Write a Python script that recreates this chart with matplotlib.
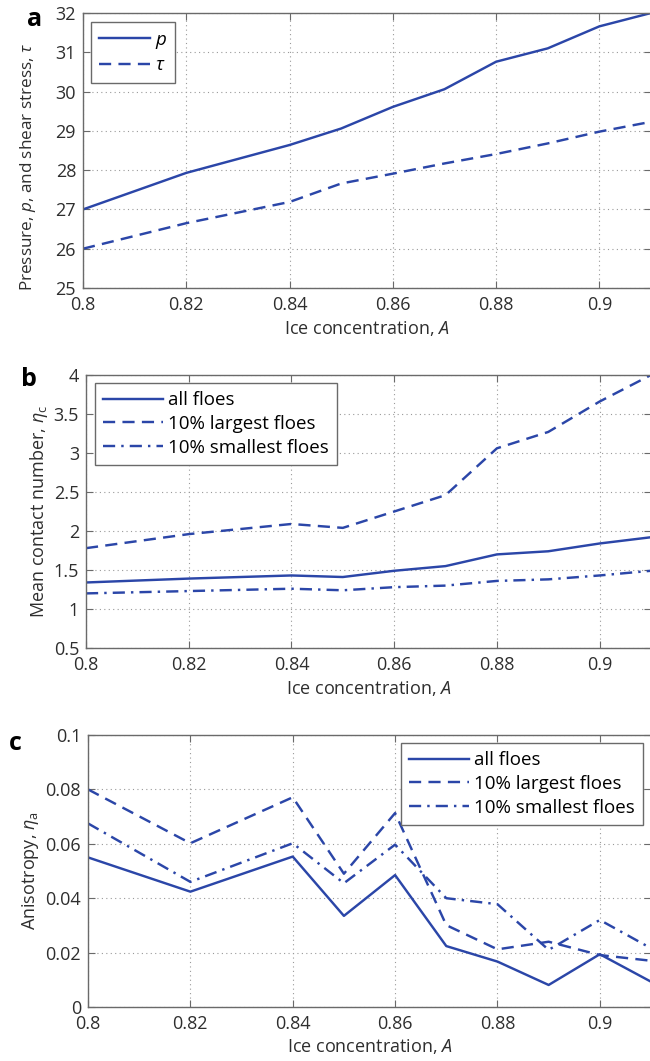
import matplotlib
matplotlib.use("Agg")
import matplotlib.pyplot as plt

# Ice concentration values (shared x for all panels)
conc = [0.80, 0.82, 0.84, 0.85, 0.86, 0.87, 0.88, 0.89, 0.90, 0.91]

# Panel a: pressure and shear stress
pressure = [27.0, 27.93, 28.64, 29.06, 29.61, 30.06, 30.76, 31.10, 31.66, 32.0]
shear = [26.0, 26.65, 27.19, 27.66, 27.91, 28.17, 28.41, 28.68, 28.98, 29.23]

# Panel b: mean contact number
contact_all = [1.34, 1.39, 1.43, 1.41, 1.49, 1.55, 1.70, 1.74, 1.84, 1.92]
contact_large = [1.78, 1.96, 2.09, 2.04, 2.25, 2.46, 3.06, 3.27, 3.66, 4.0]
contact_small = [1.20, 1.23, 1.26, 1.24, 1.28, 1.30, 1.36, 1.38, 1.43, 1.49]

# Panel c: anisotropy
aniso_all = [0.0550, 0.0424, 0.0553, 0.0335, 0.0485, 0.0224, 0.0167, 0.0081, 0.0194, 0.0093]
aniso_large = [0.0800, 0.0602, 0.0771, 0.0490, 0.0713, 0.0301, 0.0212, 0.0240, 0.0191, 0.0170]
aniso_small = [0.0675, 0.0460, 0.0602, 0.0455, 0.0597, 0.0400, 0.0378, 0.0210, 0.0320, 0.0216]

series_labels = ["all floes", "10% largest floes", "10% smallest floes"]
xticks = [0.80, 0.82, 0.84, 0.86, 0.88, 0.90]
xtick_labels = ["0.8", "0.82", "0.84", "0.86", "0.88", "0.9"]

plt.rcParams["font.family"] = ["Open Sans", "DejaVu Sans"]
plt.rcParams["mathtext.fontset"] = "custom"
plt.rcParams["mathtext.rm"] = "Open Sans"
plt.rcParams["mathtext.it"] = "Open Sans:italic"

BLUE = "#2B46A8"
GRAY = "#6a6a6a"
TEXT = "#2e2e2e"
LW = 1.75
SOLID = "-"
DASH = (0, (5.0, 3.0))
DASHDOT = (0, (5.0, 2.5, 1.0, 2.5))

W, H = 650, 1061
fig = plt.figure(figsize=(W / 100, H / 100), dpi=100)


def make_axes(left, right, top, bottom):
    return fig.add_axes([left / W, 1 - bottom / H, (right - left) / W, (bottom - top) / H])


def style_axes(ax, ylim, yticks, ylabels):
    ax.set_xlim(0.80, 0.91)
    ax.set_ylim(*ylim)
    ax.set_xticks(xticks)
    ax.set_xticklabels(xtick_labels)
    ax.set_yticks(yticks)
    ax.set_yticklabels(ylabels)
    ax.grid(True, linestyle=(0, (1, 3)), color="#9a9a9a", linewidth=0.8)
    ax.tick_params(direction="in", top=True, right=True, length=5, width=0.8,
                   color=GRAY, labelsize=13, labelcolor=TEXT)
    ax.tick_params(axis="x", pad=6)
    ax.tick_params(axis="y", pad=5)
    for sp in ax.spines.values():
        sp.set_color(GRAY)
        sp.set_linewidth(1.0)
    ax.set_xlabel("Ice concentration, $A$", fontsize=13, color=TEXT, labelpad=3)


def add_legend(ax, loc, anchor, size, spacing, hlen):
    leg = ax.legend(loc=loc, bbox_to_anchor=anchor, borderaxespad=0,
                    fancybox=False, edgecolor=GRAY, fontsize=size, handlelength=hlen,
                    handletextpad=0.25, borderpad=0.45, labelspacing=spacing,
                    framealpha=1)
    leg.get_frame().set_linewidth(1.0)
    return leg


# ---- panel a ----
ax1 = make_axes(83, 651, 13, 288)
ax1.plot(conc, pressure, color=BLUE, lw=LW, linestyle=SOLID, label="$p$")
ax1.plot(conc, shear, color=BLUE, lw=LW, linestyle=DASH, label=r"$\tau$")
style_axes(ax1, (25, 32), list(range(25, 33)), [str(v) for v in range(25, 33)])
ax1.set_ylabel(r"Pressure, $p$, and shear stress, $\tau$", fontsize=12.3, color=TEXT, labelpad=3)
ax1.yaxis.set_label_coords(-0.079, 0.44)
add_legend(ax1, "upper left", (0.014, 0.967), 13.5, 0.3, 2.7)
fig.text(27 / W, 1 - 19 / H, "a", fontsize=18, fontweight="bold", va="center", ha="left")

# ---- panel b ----
ax2 = make_axes(86, 651, 375, 648)
ax2.plot(conc, contact_all, color=BLUE, lw=LW, linestyle=SOLID, label=series_labels[0])
ax2.plot(conc, contact_large, color=BLUE, lw=LW, linestyle=DASH, label=series_labels[1])
ax2.plot(conc, contact_small, color=BLUE, lw=LW, linestyle=DASHDOT, label=series_labels[2])
b_ticks = [0.5, 1, 1.5, 2, 2.5, 3, 3.5, 4]
style_axes(ax2, (0.5, 4), b_ticks, ["0.5", "1", "1.5", "2", "2.5", "3", "3.5", "4"])
ax2.set_ylabel(r"Mean contact number, $\eta_\mathrm{c}$", fontsize=13, color=TEXT, labelpad=3)
add_legend(ax2, "upper left", (0.016, 0.971), 13.5, 0.3, 3.2)
fig.text(21 / W, 1 - 379 / H, "b", fontsize=18, fontweight="bold", va="center", ha="left")

# ---- panel c ----
ax3 = make_axes(88, 651, 735, 1007)
ax3.plot(conc, aniso_all, color=BLUE, lw=LW, linestyle=SOLID, label=series_labels[0])
ax3.plot(conc, aniso_large, color=BLUE, lw=LW, linestyle=DASH, label=series_labels[1])
ax3.plot(conc, aniso_small, color=BLUE, lw=LW, linestyle=DASHDOT, label=series_labels[2])
c_ticks = [0, 0.02, 0.04, 0.06, 0.08, 0.1]
style_axes(ax3, (0, 0.1), c_ticks, ["0", "0.02", "0.04", "0.06", "0.08", "0.1"])
ax3.set_ylabel(r"Anisotropy, $\eta_\mathrm{a}$", fontsize=13, color=TEXT, labelpad=3)
add_legend(ax3, "upper right", (0.986, 0.971), 13.5, 0.3, 3.2)
fig.text(9 / W, 1 - 743 / H, "c", fontsize=18, fontweight="bold", va="center", ha="left")

fig.savefig("out.png", dpi=100, facecolor="white")
